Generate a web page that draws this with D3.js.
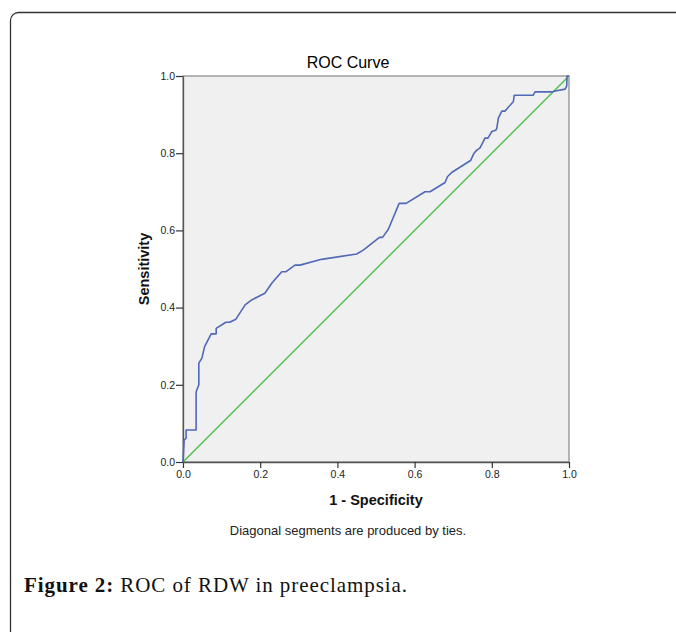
<!DOCTYPE html>
<html>
  <head>
    <meta charset="utf-8">
    <title>ROC Curve</title>
    <script src="https://d3js.org/d3.v7.min.js"></script>
    <style>
      body { margin: 0; background: #fff; }
    </style>
  </head>
  <body>
    <div id="chart"></div>
    <script>
      // ROC points: 1 - specificity, sensitivity
      var fpr = [0, 0.003, 0.008, 0.008, 0.034, 0.034, 0.041, 0.041, 0.049, 0.056, 0.067, 0.073, 0.086, 0.086,
        0.111, 0.121, 0.137, 0.161, 0.178, 0.212, 0.230, 0.241, 0.256, 0.267, 0.290, 0.303, 0.359, 0.450,
        0.467, 0.509, 0.517, 0.532, 0.560, 0.578, 0.627, 0.640, 0.679, 0.685, 0.696, 0.745, 0.754, 0.761,
        0.769, 0.778, 0.782, 0.790, 0.800, 0.811, 0.813, 0.817, 0.826, 0.834, 0.856, 0.858, 0.907, 0.912,
        0.958, 0.964, 0.990, 0.994, 0.995, 1];
      var tpr = [0, 0.057, 0.062, 0.083, 0.083, 0.182, 0.200, 0.256, 0.269, 0.299, 0.320, 0.332, 0.332, 0.346,
        0.362, 0.362, 0.370, 0.407, 0.420, 0.437, 0.463, 0.476, 0.493, 0.493, 0.510, 0.510, 0.525, 0.539,
        0.549, 0.582, 0.582, 0.603, 0.670, 0.670, 0.700, 0.700, 0.724, 0.739, 0.750, 0.781, 0.800, 0.808,
        0.813, 0.830, 0.839, 0.839, 0.856, 0.860, 0.865, 0.891, 0.909, 0.909, 0.934, 0.950, 0.950, 0.959,
        0.959, 0.961, 0.966, 0.974, 1.0, 1];
      var refLine = [0, 1];
      var ticks = [0, 0.2, 0.4, 0.6, 0.8, 1.0];

      var width = 676, height = 632;
      var svg = d3.select("#chart").append("svg")
        .attr("width", width)
        .attr("height", height);

      // outer frame, only top and left edges fall inside the picture
      svg.append("rect")
        .attr("x", 10.5).attr("y", 12.5)
        .attr("width", 720).attr("height", 700)
        .attr("rx", 8)
        .attr("fill", "none")
        .attr("stroke", "#333")
        .attr("stroke-width", 1.3);

      var x = d3.scaleLinear().domain([0, 1]).range([183, 569]);
      var y = d3.scaleLinear().domain([0, 1]).range([462, 76]);

      svg.append("rect")
        .attr("x", x(0)).attr("y", y(1))
        .attr("width", x(1) - x(0)).attr("height", y(0) - y(1))
        .attr("fill", "#f0f0f0")
        .attr("stroke", "#888")
        .attr("stroke-width", 1.2);

      var sans = "'Liberation Sans', Arial, sans-serif";
      var xAxis = svg.append("g")
        .attr("transform", "translate(0," + y(0) + ")")
        .call(d3.axisBottom(x).tickValues(ticks).tickFormat(d3.format(".1f")).tickSize(6).tickSizeOuter(0));
      var yAxis = svg.append("g")
        .attr("transform", "translate(" + x(0) + ",0)")
        .call(d3.axisLeft(y).tickValues(ticks).tickFormat(d3.format(".1f")).tickSize(7).tickSizeOuter(0));
      [xAxis, yAxis].forEach(function(a) {
        a.select(".domain").attr("stroke", "#555").attr("stroke-width", 1.3);
        a.selectAll(".tick line").attr("stroke", "#333").attr("stroke-width", 1.2);
        a.selectAll("text").attr("fill", "#222")
          .style("font-family", sans)
          .style("font-size", "10.5px");
      });
      yAxis.selectAll("text").attr("x", -8);

      // diagonal reference
      svg.append("line")
        .attr("x1", x(refLine[0])).attr("y1", y(refLine[0]))
        .attr("x2", x(refLine[1])).attr("y2", y(refLine[1]))
        .attr("stroke", "#4cbf4c")
        .attr("stroke-width", 1.4);

      var pts = fpr.map(function(d, i) { return [d, tpr[i]]; });
      svg.append("path")
        .datum(pts)
        .attr("fill", "none")
        .attr("stroke", "#5068b8")
        .attr("stroke-width", 1.6)
        .attr("stroke-linejoin", "round")
        .attr("d", d3.line().x(function(d) { return x(d[0]); }).y(function(d) { return y(d[1]); }));

      svg.append("text")
        .attr("x", 348).attr("y", 68)
        .attr("text-anchor", "middle")
        .style("font-family", sans).style("font-size", "16px")
        .attr("fill", "#000")
        .text("ROC Curve");
      svg.append("text")
        .attr("x", 376).attr("y", 505)
        .attr("text-anchor", "middle")
        .style("font-family", sans).style("font-size", "14.5px").style("font-weight", "bold")
        .attr("fill", "#111")
        .text("1 - Specificity");
      svg.append("text")
        .attr("transform", "translate(149,269) rotate(-90)")
        .attr("text-anchor", "middle")
        .style("font-family", sans).style("font-size", "14.5px").style("font-weight", "bold")
        .attr("fill", "#111")
        .text("Sensitivity");
      svg.append("text")
        .attr("x", 348).attr("y", 535)
        .attr("text-anchor", "middle")
        .style("font-family", sans).style("font-size", "13px")
        .attr("fill", "#222")
        .text("Diagonal segments are produced by ties.");

      var cap = svg.append("text")
        .attr("x", 24).attr("y", 592)
        .attr("textLength", 383)
        .attr("lengthAdjust", "spacing")
        .style("font-family", "'Liberation Serif', 'Times New Roman', serif")
        .style("font-size", "21px")
        .attr("fill", "#111");
      cap.append("tspan").style("font-weight", "bold").text("Figure 2:");
      cap.append("tspan").text(" ROC of RDW in preeclampsia.");
    </script>
  </body>
</html>
